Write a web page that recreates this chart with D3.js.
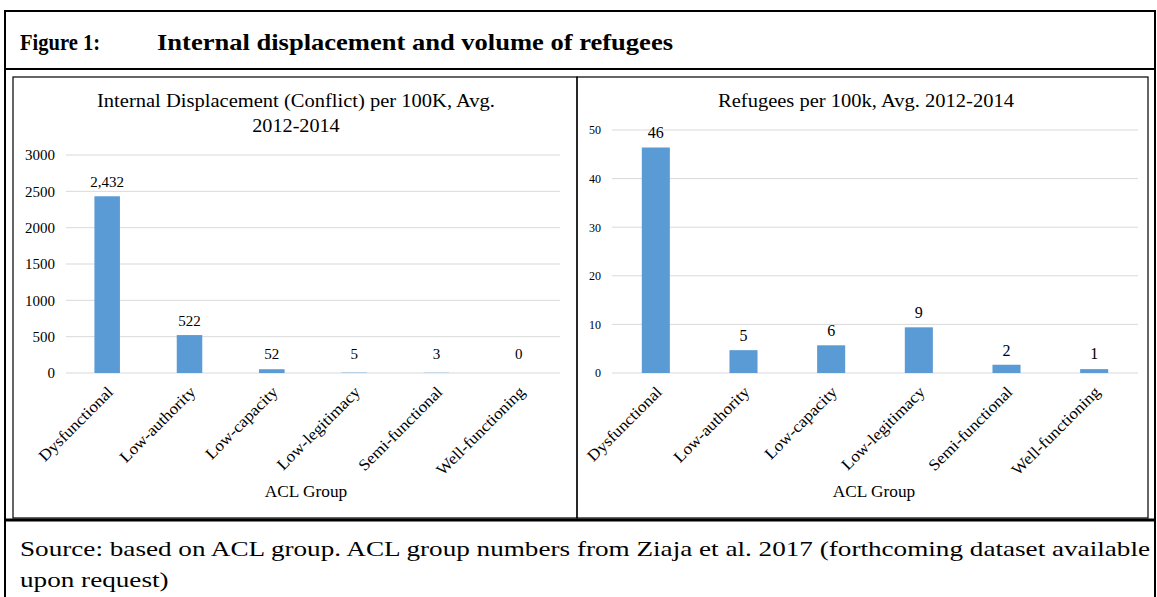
<!DOCTYPE html>
<html>
<head>
<meta charset="utf-8">
<script src="https://cdn.jsdelivr.net/npm/d3@7"></script>
<style>
body{margin:0;background:#fff;}
text{font-family:"Liberation Serif","Times New Roman",serif;fill:#000;}
</style>
</head>
<body>
<svg id="fig" width="1157" height="597"></svg>
<script>
// data
const categories = ["Dysfunctional","Low-authority","Low-capacity","Low-legitimacy","Semi-functional","Well-functioning"];
const displacement = [2432, 522, 52, 5, 3, 0];
const refugees = [46.4, 4.7, 5.7, 9.4, 1.7, 0.8];
const displacementTicks = [0, 500, 1000, 1500, 2000, 2500, 3000];
const refugeeTicks = [0, 10, 20, 30, 40, 50];

const K = 1.08; // the source text renders a bit wider than Liberation Serif

const svg = d3.select("#fig");
svg.append("rect").attr("width",1157).attr("height",597).attr("fill","#fff");

// widen text: either to a fixed width, or by a factor
function stretch(sel, k, width){
	sel.each(function(){
		let w = width || this.getComputedTextLength()*k;
		d3.select(this).attr("textLength",w).attr("lengthAdjust","spacingAndGlyphs");
	});
}

// table lines
function line(x1,y1,x2,y2,w){
	svg.append("line").attr("x1",x1).attr("y1",y1).attr("x2",x2).attr("y2",y2)
		.style("stroke","#000").style("stroke-width",w);
}
line(4,11,1156,11,2);
line(4,69,1156,69,2);
line(4,520,1156,520,3);
line(5,11,5,597,2);
line(1155,11,1155,597,2);

// title
let f1 = svg.append("text").attr("x",20).attr("y",50).style("font-size","23px").style("font-weight","bold").text("Figure 1:");
stretch(f1,1,80);
let f2 = svg.append("text").attr("x",157).attr("y",50).style("font-size","23px").style("font-weight","bold")
	.text("Internal displacement and volume of refugees");
stretch(f2,1,516);

// footer
let s1 = svg.append("text").attr("x",20).attr("y",556).style("font-size","22px")
	.text("Source: based on ACL group. ACL group numbers from Ziaja et al. 2017 (forthcoming dataset available");
let fk = 1130/s1.node().getComputedTextLength();
stretch(s1,1,1130);
let s2 = svg.append("text").attr("x",20).attr("y",587).style("font-size","22px").text("upon request)");
stretch(s2,fk);

function drawChart(cfg){
	const g = svg.append("g");
	g.append("rect").attr("x",cfg.frame[0]).attr("y",77).attr("width",cfg.frame[1]-cfg.frame[0]).attr("height",441)
		.attr("fill","none").style("stroke","#000").style("stroke-width",1.2);

	const x = d3.scaleBand().domain(categories).range([cfg.left,cfg.right]);
	const y = d3.scaleLinear().domain([0,d3.max(cfg.ticks)]).range([373,cfg.top]);

	// grid
	g.selectAll(".grid").data(cfg.ticks).enter().append("line")
		.attr("x1",cfg.left).attr("x2",cfg.right)
		.attr("y1",d=>y(d)).attr("y2",d=>y(d))
		.style("stroke","#d9d9d9").style("stroke-width",1);

	const yAxis = d3.axisLeft(y).tickValues(cfg.ticks).tickSize(0).tickPadding(0).tickFormat(d3.format("d"));
	const ya = g.append("g").attr("transform","translate("+(cfg.left-11)+",0)").call(yAxis);
	ya.select(".domain").remove();
	ya.selectAll("text").style("font-family","Liberation Serif").style("font-size",cfg.tickSize).attr("fill","#000");

	const bw = x.bandwidth()*cfg.barFrac;
	g.selectAll(".bar").data(cfg.values).enter().append("rect")
		.attr("x",(d,i)=>x(categories[i])+(x.bandwidth()-bw)/2)
		.attr("y",d=>y(d))
		.attr("width",bw)
		.attr("height",d=>373-y(d))
		.attr("fill","#5b9bd5");

	g.selectAll(".lbl").data(cfg.values).enter().append("text")
		.attr("x",(d,i)=>x(categories[i])+x.bandwidth()/2)
		.attr("y",d=>Math.min(y(d),368)-9)
		.attr("text-anchor","middle")
		.style("font-size",cfg.labelSize)
		.text(d=>d3.format(",")(Math.round(d)));

	const xAxis = d3.axisBottom(x).tickSize(0).tickPadding(0);
	const xa = g.append("g").attr("transform","translate(0,373)").call(xAxis);
	xa.select(".domain").remove();
	let xl = xa.selectAll("text")
		.style("font-family","Liberation Serif").style("font-size","16px").attr("fill","#000")
		.attr("text-anchor","end")
		.attr("dy",0).attr("y",0)
		.attr("transform","translate(7,20) rotate(-45)");
	stretch(xl,K);

	let at = g.append("text").attr("x",cfg.axisX).attr("y",497).attr("text-anchor","middle")
		.style("font-size","16px").text("ACL Group");
	stretch(at,K);

	cfg.title.forEach((t,i)=>{
		let tt = g.append("text").attr("x",cfg.titleX).attr("y",107+i*25).attr("text-anchor","middle")
			.style("font-size","18px").text(t);
		stretch(tt,1,i==0 ? cfg.titleW : null);
		if (i>0) stretch(tt,cfg.titleW/348*0.98);
	});
}

drawChart({
	frame:[13,577], left:66, right:560, top:155,
	values:displacement, ticks:displacementTicks, tickSize:"15px", labelSize:"15px", barFrac:0.31,
	title:["Internal Displacement (Conflict) per 100K, Avg.","2012-2014"], titleX:296, titleW:398, axisX:306
});
drawChart({
	frame:[577,1148], left:612, right:1138, top:130,
	values:refugees, ticks:refugeeTicks, tickSize:"12px", labelSize:"16px", barFrac:0.32,
	title:["Refugees per 100k, Avg. 2012-2014"], titleX:866, titleW:296, axisX:874
});
</script>
</body>
</html>
